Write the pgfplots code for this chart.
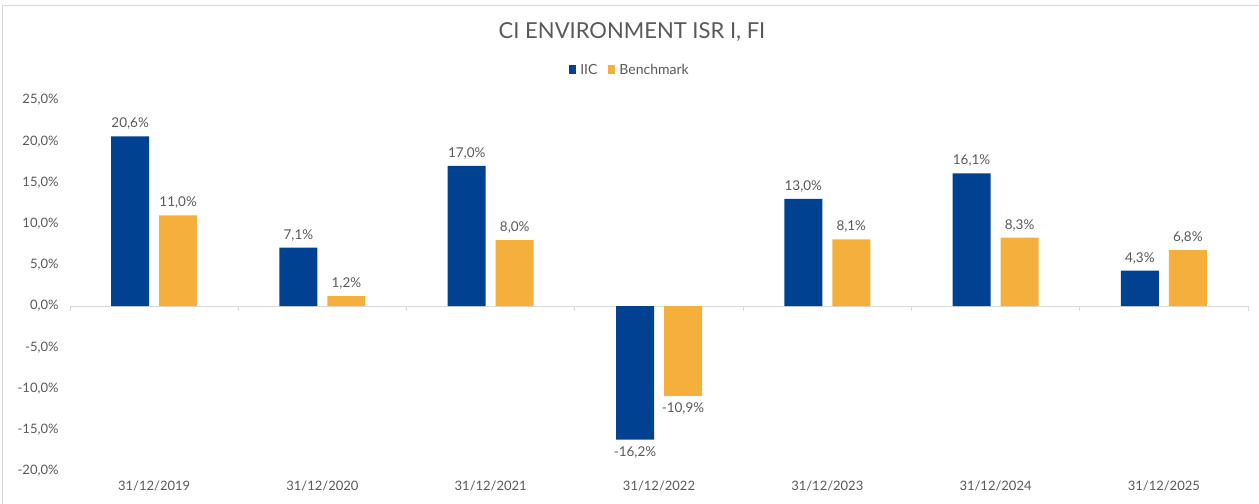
\documentclass[border=0pt]{standalone}
\usepackage{fontspec}
\setmainfont{Lato}
\usepackage{pgfplots}
\pgfplotsset{compat=1.18}
\definecolor{iic}{RGB}{0,65,145}
\definecolor{bench}{RGB}{245,175,60}
\definecolor{txt}{RGB}{89,89,89}
\definecolor{axgray}{RGB}{217,217,217}
\begin{document}
\begin{tikzpicture}[x=1bp,y=1bp]
\path[use as bounding box] (0,0) rectangle (1259,504);
\draw[axgray, line width=1.2bp] (2.5,0) -- (2.5,498.5) -- (1259,498.5);
\node[text=txt, font=\fontsize{22bp}{26bp}\selectfont] at (632,472) {CI ENVIRONMENT ISR I, FI};
\begin{axis}[
  at={(70bp,33bp)}, anchor=south west, scale only axis,
  width=1178bp, height=371bp,
  ybar=10bp, bar width=38bp,
  xmin=-0.5, xmax=6.5, ymin=-20, ymax=25,
  xtick={0,1,2,3,4,5,6},
  xticklabels={31/12/2019,31/12/2020,31/12/2021,31/12/2022,31/12/2023,31/12/2024,31/12/2025},
  ytick={-20,-15,-10,-5,0,5,10,15,20,25},
  axis line style={draw=none},
  tick style={draw=none},
  major tick length=0pt,
  /pgf/number format/assume math mode=true,
  tick label style={font=\fontsize{13bp}{15bp}\selectfont, text=txt},
  yticklabel={\pgfmathprintnumber[fixed,fixed zerofill,precision=1,use comma]{\tick}\%},
  xticklabel style={yshift=-6bp},
  yticklabel style={xshift=-8bp},
  nodes near coords={\pgfmathprintnumber[fixed,fixed zerofill,precision=1,use comma,assume math mode=true]{\pgfplotspointmeta}\%},
  every node near coord/.append style={font=\fontsize{13.5bp}{15bp}\selectfont, text=txt, inner sep=6.5bp},
  legend columns=2,
  legend style={draw=none, fill=none, at={(axis description cs:0.4754,1.0809)}, anchor=center,
    font=\fontsize{14bp}{15bp}\selectfont, text=txt,
    /tikz/every odd column/.append style={column sep=2bp},
    /tikz/every even column/.append style={column sep=9bp}},
  clip=false,
]
\draw[axgray, line width=1bp] (axis cs:-0.5,0) -- (axis cs:6.5,0);
\pgfplotsinvokeforeach{-0.5,0.5,1.5,2.5,3.5,4.5,5.5,6.5}{
  \draw[axgray, line width=1bp] (axis cs:#1,0) -- ([yshift=-5bp]axis cs:#1,0);
}
\addplot[fill=iic, draw=none,
  legend image code/.code={\fill[iic] (0bp,-4.5bp) rectangle (7bp,4.5bp);}]
  coordinates {(0,20.6) (1,7.1) (2,17.0) (3,-16.2) (4,13.0) (5,16.1) (6,4.3)};
\addlegendentry{IIC}
\addplot[fill=bench, draw=none,
  legend image code/.code={\fill[bench] (0bp,-4.5bp) rectangle (7bp,4.5bp);}]
  coordinates {(0,11.0) (1,1.2) (2,8.0) (3,-10.9) (4,8.1) (5,8.3) (6,6.8)};
\addlegendentry{Benchmark}
\end{axis}
\end{tikzpicture}
\end{document}
